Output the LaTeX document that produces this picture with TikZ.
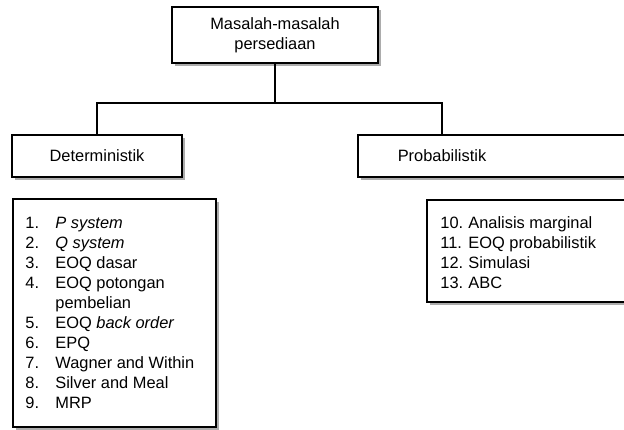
\documentclass[tikz,border=0pt]{standalone}
\usepackage{fontspec}
\setmainfont{Liberation Sans}
\usetikzlibrary{shadows,positioning}

\begin{document}
\begin{tikzpicture}[x=0.5pt,y=-0.5pt]
			\tikzstyle{Box}		= [draw, line width=0.7pt, fill=white, inner sep=0pt, align=center,
						   drop shadow={shadow xshift=1.6pt, shadow yshift=-1.6pt, fill=gray!65, opacity=1}]
			\tikzstyle{Label}	= [inner sep=0pt, align=center]
			\tikzstyle{Item}	= [inner sep=0pt, anchor=base west]
			\tikzstyle{Link}	= [line width=0.7pt]
			
			\useasboundingbox (0,0) rectangle (624,429);
			\clip (0,0) rectangle (624,429);
			\fontsize{8.2}{10}\selectfont
			
			\node (top) at (275,35) [Box, minimum width=103pt, minimum height=28pt] {Masalah-masalah\\persediaan};
			\node (det) at (97,156) [Box, minimum width=85pt, minimum height=21pt] {Deterministik};
			\node (prob) at (499,156) [Box, minimum width=141pt, minimum height=21pt] {};
			\node (probtext) at (442,156) [Label] {Probabilistik};
			\node (detlist) at (114.5,313) [Box, minimum width=101.5pt, minimum height=114pt] {};
			\node (problist) at (533.5,251) [Box, minimum width=106.5pt, minimum height=51pt] {};
			
			\coordinate (split) at (275,103);
			\draw [Link] (top) -- (split);
			\draw [Link] (split) -| (det);
			\draw [Link] (split) -| (probtext |- prob.north);
			
			\foreach \y/\n/\t in {228/1./{\textit{P system}}, 248/2./{\textit{Q system}}, 268/3./EOQ dasar,
					288/4./EOQ potongan, 328/5./{EOQ \textit{back order}}, 348/6./EPQ,
					368/7./Wagner and Within, 388/8./Silver and Meal, 408/9./MRP}
			{
				\node (dn\y) at (25,\y) [Item] {\n};
				\node (dt\y) at (55,\y) [Item] {\t};
			}
			\node (dt308) at (55,308) [Item] {pembelian};
			
			\foreach \y/\n/\t in {228/10./Analisis marginal, 248/11./EOQ probabilistik, 268/12./Simulasi, 288/13./ABC}
			{
				\node (pn\y) at (440,\y) [Item] {\n};
				\node (pt\y) at (468,\y) [Item] {\t};
			}
		\end{tikzpicture}
\end{document}
